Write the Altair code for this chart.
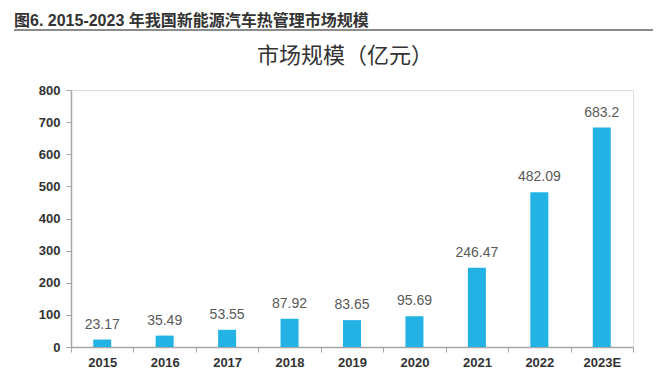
import altair as alt
import pandas as pd

years = ["2015", "2016", "2017", "2018", "2019", "2020", "2021", "2022", "2023E"]
values = [23.17, 35.49, 53.55, 87.92, 83.65, 95.69, 246.47, 482.09, 683.2]
labels = ["23.17", "35.49", "53.55", "87.92", "83.65", "95.69", "246.47", "482.09", "683.2"]
fig_title = "图6. 2015-2023 年我国新能源汽车热管理市场规模"
heading = "市场规模（亿元）"
y_ticks = [0, 100, 200, 300, 400, 500, 600, 700, 800]

df = pd.DataFrame({"year": years, "value": values, "label": labels})
tdf = pd.DataFrame({"t": [fig_title], "h": [heading]})

x_enc = alt.X(
    "year:N",
    sort=years,
    title=None,
    scale=alt.Scale(paddingInner=0, paddingOuter=0),
    axis=alt.Axis(
        labelAngle=0,
        labelFont="Liberation Sans",
        labelFontSize=13,
        labelFontWeight="bold",
        labelColor="#333333",
        labelPadding=4,
        tickBand="extent",
        tickColor="#a6a6a6",
        tickSize=5,
        domainColor="#a6a6a6",
        domainWidth=1.5,
    ),
)
y_enc = alt.Y(
    "value:Q",
    title=None,
    scale=alt.Scale(domain=[0, 800], nice=False),
    axis=alt.Axis(
        values=y_ticks,
        grid=False,
        labelOverlap=False,
        labelFont="Liberation Sans",
        labelFontSize=13,
        labelFontWeight="bold",
        labelColor="#333333",
        labelPadding=6,
        tickColor="#a6a6a6",
        tickSize=5,
        domainColor="#a6a6a6",
        domainWidth=1.5,
    ),
)

base = alt.Chart(df).encode(x=x_enc, y=y_enc)

bars = base.mark_bar(size=18, color="#22B3E4")

texts = base.mark_text(
    baseline="bottom", dy=-8, font="Liberation Sans", fontSize=14, color="#595959"
).encode(text="label:N")

title_txt = alt.Chart(tdf).mark_text(
    align="left", baseline="middle", font="Liberation Sans, Noto Sans CJK SC", fontSize=16,
    fontWeight="bold", color="#333333"
).encode(x=alt.value(-57), y=alt.value(-69), text="t:N")

heading_txt = alt.Chart(tdf).mark_text(
    align="center", baseline="middle", font="Noto Sans CJK SC", fontSize=22,
    color="#333333"
).encode(x=alt.value(274), y=alt.value(-34), text="h:N")

underline = alt.Chart(tdf).mark_rule(color="#8c8c8c", strokeWidth=2).encode(
    x=alt.value(-57), x2=alt.value(582), y=alt.value(-60)
)

chart = alt.layer(bars, texts, title_txt, heading_txt, underline).properties(
    width=562,
    height=257,
    autosize=alt.AutoSizeParams(type="none"),
    padding={"left": 63, "top": 82, "right": 20, "bottom": 21},
).configure_view(stroke=None).configure(background="white")

chart.save("out.html", embed_options={"renderer": "svg", "actions": False})
